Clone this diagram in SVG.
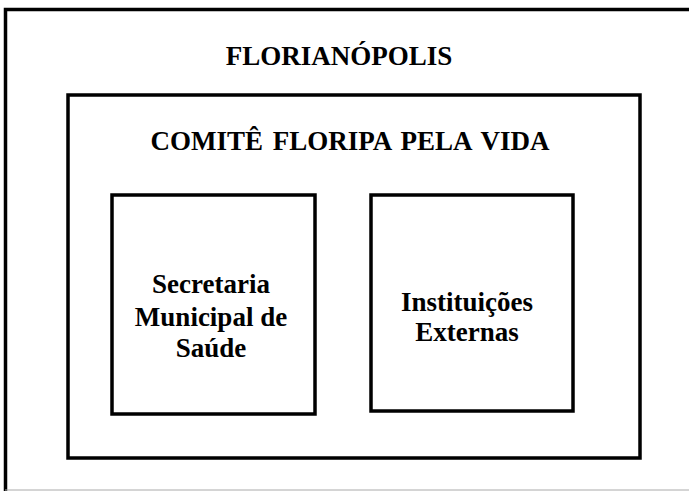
<svg xmlns="http://www.w3.org/2000/svg" width="689" height="491" viewBox="0 0 689 491">
  <style>
    .box { fill: none; stroke: #000; stroke-width: 3.5; }
    .t { font-family: "Liberation Serif", "Times New Roman", serif; font-weight: bold; font-size: 27px; fill: #000; text-anchor: middle; }
  </style>
  <rect width="689" height="491" fill="#fff"/>
  <g id="florianopolis">
    <path class="box" d="M5.5 491 V9.5 H690"/>
    <line x1="5" y1="490" x2="689" y2="490" stroke="#aaa" stroke-width="1"/>
    <text class="t" x="339" y="65">FLORIANÓPOLIS</text>
  </g>
  <g id="comite">
    <rect class="box" x="68" y="95" width="572" height="363"/>
    <text class="t" x="350" y="150" word-spacing="3">COMITÊ FLORIPA PELA VIDA</text>
  </g>
  <g id="secretaria">
    <rect class="box" x="112" y="195" width="203" height="219"/>
    <text class="t" x="211" y="293">Secretaria</text>
    <text class="t" x="211" y="326">Municipal de</text>
    <text class="t" x="211" y="357">Saúde</text>
  </g>
  <g id="instituicoes">
    <rect class="box" x="371" y="195" width="202" height="216"/>
    <text class="t" x="467" y="311">Instituições</text>
    <text class="t" x="467" y="341">Externas</text>
  </g>
  <g id="connectors"></g>
</svg>
